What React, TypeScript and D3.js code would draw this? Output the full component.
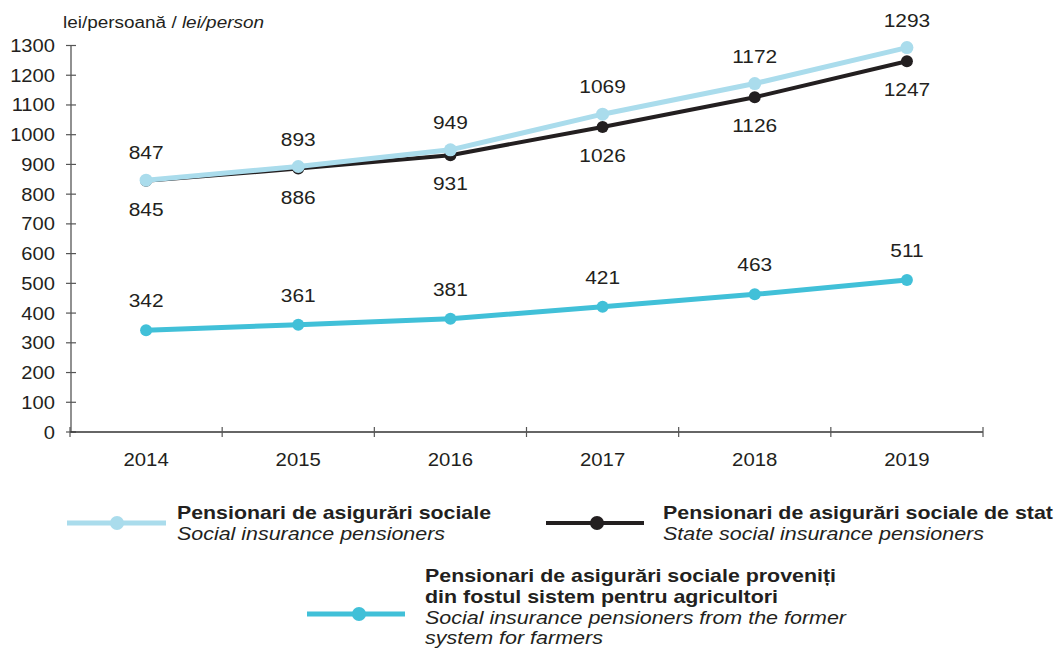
import React from "react";
import * as d3 from "d3";

const years = ["2014", "2015", "2016", "2017", "2018", "2019"];
const socialInsurance = [847, 893, 949, 1069, 1172, 1293];
const stateSocial = [845, 886, 931, 1026, 1126, 1247];
const farmers = [342, 361, 381, 421, 463, 511];
const yTicks = [0, 100, 200, 300, 400, 500, 600, 700, 800, 900, 1000, 1100, 1200, 1300];

const W = 1060;
const H = 649;
const FONT = "'Liberation Sans', Arial, Helvetica, sans-serif";
const C_LIGHT = "#aadcec";
const C_DARK = "#231f20";
const C_TEAL = "#41c0d8";
const SX = 1.1;

function T(props: any) {
  const { x, y, sx = SX, size = 18, children, ...rest } = props;
  return (
    <text transform={`translate(${x},${y}) scale(${sx},1)`} fill={C_DARK} fontSize={size} {...rest}>
      {children}
    </text>
  );
}

function L(props: any) {
  const { x, y, len, size = 19, children, ...rest } = props;
  return (
    <text x={x} y={y} textLength={len} lengthAdjust="spacingAndGlyphs" fill={C_DARK} fontSize={size} {...rest}>
      {children}
    </text>
  );
}

export default function App() {
  const x = d3.scaleBand<string>().domain(years).range([70, 983]);
  const y = d3.scaleLinear().domain([0, 1300]).range([432, 45.5]);
  const cx = (d: string) => (x(d) as number) + x.bandwidth() / 2;
  const line = d3
    .line<number>()
    .x((_, i) => cx(years[i]))
    .y((v) => y(v));

  const series = [
    { data: farmers, color: C_TEAL, width: 5, r: 6, labelDy: -23 },
    { data: stateSocial, color: C_DARK, width: 4, r: 6, labelDy: 35 },
    { data: socialInsurance, color: C_LIGHT, width: 5, r: 6.5, labelDy: -21 },
  ];
  const xBounds = [70, ...years.map((d) => (x(d) as number) + x.bandwidth())];

  return (
    <svg width={W} height={H} style={{ position: "absolute", left: 0, top: 0, background: "#fff" }} fontFamily={FONT}>
      <text x={63} y={28} fontSize={16} fill={C_DARK} textLength={201} lengthAdjust="spacingAndGlyphs">
        lei/persoană / <tspan fontStyle="italic">lei/person</tspan>
      </text>
      {/* y axis */}
      <line x1={71} x2={71} y1={y(1300)} y2={y(0)} stroke="#555" strokeWidth={1.3} />
      {yTicks.map((t) => (
        <g key={t}>
          <line x1={66} x2={76} y1={y(t)} y2={y(t)} stroke="#555" strokeWidth={1.2} />
          <T x={55} y={y(t) + 6.5} textAnchor="end" sx={1.12}>
            {t}
          </T>
        </g>
      ))}
      {/* x axis */}
      <line x1={70} x2={983} y1={y(0)} y2={y(0)} stroke="#333" strokeWidth={1.3} />
      {xBounds.map((b, i) => (
        <line key={i} x1={b} x2={b} y1={y(0) - 5} y2={y(0) + 5} stroke="#555" strokeWidth={1.2} />
      ))}
      {years.map((d) => (
        <T key={d} x={cx(d)} y={466} textAnchor="middle" size={18.5}>
          {d}
        </T>
      ))}
      {series.map((s, si) => (
        <g key={si}>
          <path d={line(s.data) || ""} fill="none" stroke={s.color} strokeWidth={s.width} strokeLinejoin="round" />
          {s.data.map((v, i) => (
            <circle key={i} cx={cx(years[i])} cy={y(v)} r={s.r} fill={s.color} />
          ))}
        </g>
      ))}
      {series.map((s, si) =>
        s.data.map((v, i) => (
          <T key={si + "-" + i} x={cx(years[i])} y={y(v) + s.labelDy} textAnchor="middle" size={19}>
            {v}
          </T>
        ))
      )}
      {/* legend */}
      <g>
        <line x1={67} x2={166} y1={523} y2={523} stroke={C_LIGHT} strokeWidth={5} />
        <circle cx={117} cy={523} r={7} fill={C_LIGHT} />
        <L x={177} y={519} len={314} fontWeight="bold">Pensionari de asigurări sociale</L>
        <L x={177} y={540} len={268} fontStyle="italic">Social insurance pensioners</L>

        <line x1={546} x2={644} y1={523} y2={523} stroke={C_DARK} strokeWidth={4} />
        <circle cx={597} cy={523} r={7} fill={C_DARK} />
        <L x={663} y={519} len={390} fontWeight="bold">Pensionari de asigurări sociale de stat</L>
        <L x={663} y={540} len={321} fontStyle="italic">State social insurance pensioners</L>

        <line x1={307} x2={405} y1={614} y2={614} stroke={C_TEAL} strokeWidth={5} />
        <circle cx={359} cy={614} r={7} fill={C_TEAL} />
        <L x={425} y={582} len={411} fontWeight="bold">Pensionari de asigurări sociale proveniți</L>
        <L x={425} y={603} len={353} fontWeight="bold">din fostul sistem pentru agricultori</L>
        <L x={425} y={624} len={421} fontStyle="italic" size={18.5}>Social insurance pensioners from the former</L>
        <L x={425} y={644} len={178} fontStyle="italic" size={18.5}>system for farmers</L>
      </g>
    </svg>
  );
}
